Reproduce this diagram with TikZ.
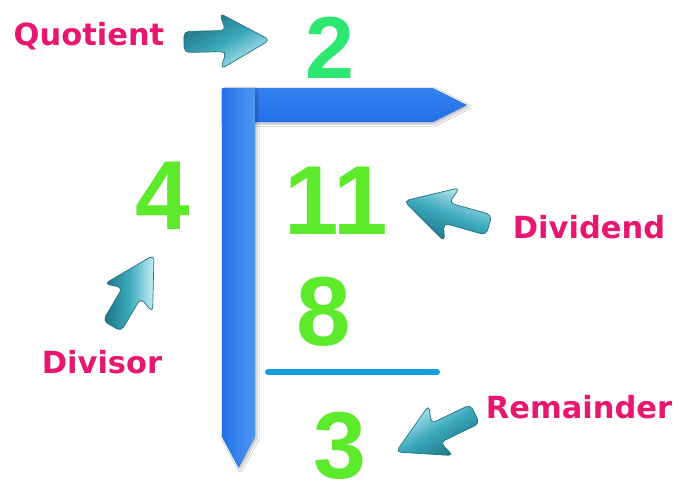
\documentclass[tikz,border=0pt]{standalone}
\usepackage{fontspec}
\setmainfont{Liberation Sans}
\newfontfamily\labelfont{DejaVu Sans}
\usetikzlibrary{calc,shadows.blur}

\definecolor{barblue}{RGB}{35,112,232}
\definecolor{barlight}{RGB}{78,152,242}
\definecolor{bartop}{RGB}{52,128,240}
\definecolor{rulecyan}{RGB}{20,158,226}
\definecolor{mint}{RGB}{45,232,112}
\definecolor{lime}{RGB}{92,234,42}
\definecolor{labelpink}{RGB}{232,22,110}
\definecolor{tealdark}{RGB}{30,112,128}
\definecolor{tealmid}{RGB}{58,168,188}
\definecolor{teallight}{RGB}{196,238,244}

% block arrow from a tail coordinate to a tip coordinate
\newcommand\blockarrow[3]{%
  \coordinate (#1-h) at ($(#2)!44pt!(#1)$);
  \coordinate (#1-w) at ($(#2)!50pt!(#1)$);
  \path[arrowbody,#3]
    ($(#1)!10.5pt!90:(#2)$) -- ($(#1-h)!10.5pt!90:(#2)$) -- ($(#1-w)!28pt!90:(#2)$)
    -- (#2) -- ($(#1-w)!28pt!-90:(#2)$) -- ($(#1-h)!10.5pt!-90:(#2)$)
    -- ($(#1)!10.5pt!-90:(#2)$) -- cycle;}

\begin{document}
\begin{tikzpicture}[x=1pt,y=-1pt,
  digit/.style={inner sep=0pt, text=lime, font=\fontsize{98}{98}\selectfont\bfseries},
  partname/.style={inner sep=0pt, anchor=base, text=labelpink,
    font=\labelfont\fontsize{30.5}{30.5}\selectfont\bfseries},
  arrowbody/.style={draw=tealdark, line width=0.7pt, rounded corners=5pt},
  barshadow/.style={blur shadow={shadow xshift=2pt, shadow yshift=-2pt,
    shadow opacity=25, shadow blur steps=6}}]

\fill[white] (0,0) rectangle (680,493);
\useasboundingbox (0,0) rectangle (680,493);

% division bracket: horizontal bar with arrow point, vertical bar with pointed foot
\path[barshadow, top color=bartop, bottom color=barblue]
  (222,88) -- (433,88) -- (467,105) -- (433,122) -- (222,122) -- cycle;
\path[barshadow, left color=barblue, right color=barlight]
  (222,88) -- (255,88) -- (255,437) -- (238.5,468) -- (222,437) -- cycle;

% subtraction rule
\coordinate (ruleL) at (268,372);
\coordinate (ruleR) at (437,372);
\draw[rulecyan, line width=6pt, line cap=round] (ruleL) -- (ruleR);

% numbers
\node[digit, text=mint, font=\fontsize{88}{88}\selectfont\bfseries] (quot) at (330,48) {2};
\node[digit] (divisor) at (163,196) {4};
\node[digit] (dividend) at (336,201) {11};
\node[digit] (sub) at (324,312) {8};
\node[digit, font=\fontsize{95}{95}\selectfont\bfseries] (rem) at (340,446) {3};

% names of the parts
\node[partname] (quotLabel) at (89,45) {Quotient};
\node[partname] (dividendLabel) at (589,238) {Dividend};
\node[partname] (divisorLabel) at (102,373) {Divisor};
\node[partname] (remLabel) at (579,418) {Remainder};

% pointer arrows
\coordinate (qTail) at (184,42);   \coordinate (qTip) at (270,40);
\coordinate (dTail) at (489,225);  \coordinate (dTip) at (404,201);
\coordinate (vTail) at (112,326);  \coordinate (vTip) at (154,255);
\coordinate (rTail) at (475,414);  \coordinate (rTip) at (396,452);

\blockarrow{qTail}{qTip}{top color=tealdark, bottom color=teallight, middle color=tealmid, shading angle=30}
\blockarrow{dTail}{dTip}{top color=teallight, bottom color=tealdark, middle color=tealmid, shading angle=-20}
\blockarrow{vTail}{vTip}{left color=tealdark, right color=teallight, middle color=tealmid}
\blockarrow{rTail}{rTip}{top color=teallight, bottom color=tealdark, middle color=tealmid, shading angle=30}
\end{tikzpicture}
\end{document}
